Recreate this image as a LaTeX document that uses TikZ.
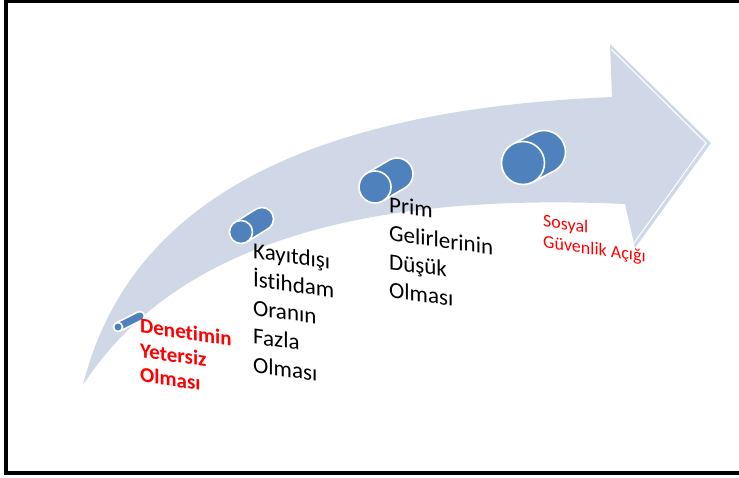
\documentclass[tikz,border=0pt]{standalone}
\usepackage{fontspec}
\setmainfont{Carlito}[Ligatures={NoCommon,NoContextual}]
\usetikzlibrary{calc}
\definecolor{arrowfill}{RGB}{208,216,232}
\definecolor{cylblue}{RGB}{79,129,189}
\newcommand\mycylinder[4]{%
  \coordinate (#1f) at #2;
  \coordinate (#1b) at #3;
  \draw[cylrim, fill=cylblue] (#1b) circle[radius=#4pt];
  \fill[cylblue] ($(#1f)!#4pt!90:(#1b)$) -- ($(#1b)!#4pt!-90:(#1f)$) -- ($(#1b)!#4pt!90:(#1f)$) -- ($(#1f)!#4pt!-90:(#1b)$) -- cycle;
  \draw[cylrim] ($(#1f)!#4pt!90:(#1b)$) -- ($(#1b)!#4pt!-90:(#1f)$) ($(#1b)!#4pt!90:(#1f)$) -- ($(#1f)!#4pt!-90:(#1b)$);
  \draw[cylrim, fill=cylblue] (#1f) circle[radius=#4pt];
}
\begin{document}
\begin{tikzpicture}[x=1pt,y=-1pt,
  cylrim/.style={draw=white, line width=1.6pt},
  lbl/.style={anchor=north west, inner sep=0pt, align=left, yslant=-0.14},
  blacktxt/.style={lbl, text=black, font=\fontsize{23}{28.5}\selectfont},
  redbold/.style={lbl, text=red, font=\bfseries\fontsize{21}{24.5}\selectfont},
  redtxt/.style={lbl, text=red, font=\fontsize{18}{21}\selectfont}]
\useasboundingbox (0,0) rectangle (739,477);
% frame
\draw[line width=3.6pt] (739,1.5) -- (6,1.5) -- (6,473) -- (739,473);
% arrow
\fill[arrowfill] (83,385) .. controls (128,205) and (300,110) .. (612,97)
  -- (610,44) -- (711,143) -- (635,248) -- (625,204)
  .. controls (420,195) and (190,220) .. (83,385) -- cycle;
\draw[white, line width=1pt] (611,49) -- (706,143) -- (634,243);
% cylinders
\mycylinder{ca}{(118,327)}{(140,316)}{4.5}
\mycylinder{cb}{(241,232)}{(262,219)}{11.5}
\mycylinder{cc}{(375,187)}{(397,174)}{16}
\mycylinder{cd}{(523,163)}{(544,152)}{21.5}
% labels
\node[redbold] (denetim) at (140,318) {Denetimin\\Yetersiz\\Olması};
\node[blacktxt] (kayit) at (253,242) {Kayıtdışı\\İstihdam\\Oranın\\Fazla\\Olması};
\node[blacktxt] (prim) at (389,196) {Prim\\Gelirlerinin\\Düşük\\Olması};
\node[redtxt] (sosyal) at (543,214) {Sosyal\\Güvenlik Açığı};
\end{tikzpicture}
\end{document}
